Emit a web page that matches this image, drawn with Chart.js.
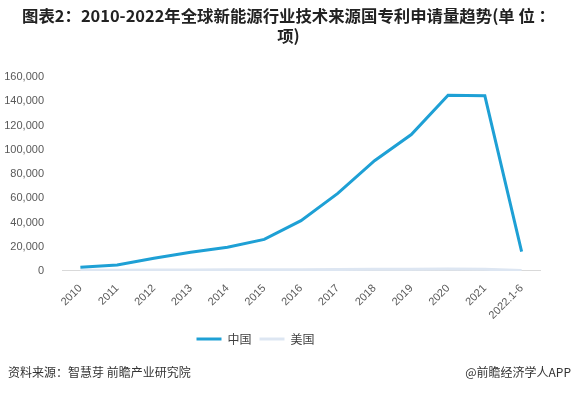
<!DOCTYPE html>
<html>
<head>
<meta charset="utf-8">
<script src="https://cdn.jsdelivr.net/npm/chart.js@4/dist/chart.umd.min.js"></script>
<style>
  html, body { margin: 0; padding: 0; background: #fff; }
  #wrap { position: relative; width: 577px; height: 393px; }
  #c { position: absolute; left: 0; top: 0; }
  .foot { position: absolute; top: 362px; font-family: "Noto Sans CJK SC", sans-serif; font-size: 12px; color: #333; line-height: 20px; white-space: nowrap; }
</style>
</head>
<body>
<div id="wrap">
  <canvas id="c" width="577" height="393"></canvas>
  <div class="foot" style="left:8px;">资料来源：智慧芽 前瞻产业研究院</div>
  <div class="foot" style="right:6px;">@前瞻经济学人APP</div>
</div>
<script>
const titleLines = ['图表2：2010-2022年全球新能源行业技术来源国专利申请量趋势(单 位 ：', '项)'];
const categories = ['2010','2011','2012','2013','2014','2015','2016','2017','2018','2019','2020','2021','2022.1-6'];
const seriesNames = ['中国', '美国'];
const chinaValues = [3000, 5000, 10500, 15500, 19500, 26000, 41500, 64000, 91000, 112500, 145000, 144500, 16000];
const usValues = [500, 600, 700, 800, 900, 1000, 1100, 1300, 1400, 1500, 1600, 1400, 300];
const yTicks = [0, 20000, 40000, 60000, 80000, 100000, 120000, 140000, 160000];

const legendShift = {
  id: 'legendShift',
  afterLayout(chart) {
    if (chart.legend) { chart.legend.left -= 33; chart.legend.right -= 33; }
  }
};

new Chart(document.getElementById('c'), {
  type: 'line',
  data: {
    labels: categories,
    datasets: [
      { label: seriesNames[0], data: chinaValues, borderColor: '#1ea0d5', backgroundColor: '#1ea0d5', borderWidth: 3, pointRadius: 0, tension: 0 },
      { label: seriesNames[1], data: usValues, borderColor: '#dde6f2', backgroundColor: '#dde6f2', borderWidth: 3, pointRadius: 0, tension: 0 }
    ]
  },
  plugins: [legendShift],
  options: {
    responsive: false,
    animation: false,
    layout: { padding: { left: 0, right: 0, top: 0, bottom: 38 } },
    plugins: {
      title: {
        display: true,
        text: titleLines,
        color: '#222',
        font: { family: '"Noto Sans CJK SC", sans-serif', size: 16.4, weight: 'bold', lineHeight: 1.22 },
        padding: { top: 6, bottom: 31 }
      },
      legend: {
        position: 'bottom',
        labels: {
          usePointStyle: true,
          pointStyle: 'line',
          pointStyleWidth: 25,
          boxHeight: 12,
          padding: 8,
          color: '#404040',
          font: { family: '"Noto Sans CJK SC", sans-serif', size: 12 }
        }
      },
      tooltip: { enabled: false }
    },
    scales: {
      x: {
        offset: true,
        grid: { display: false },
        border: { display: true, color: '#d9d9d9', width: 1 },
        ticks: { maxRotation: 45, minRotation: 45, color: '#595959', font: { family: '"Liberation Sans", Arial, sans-serif', size: 11 } },
        afterFit: (s) => { s.paddingLeft = 0; s.paddingRight = 37; }
      },
      y: {
        min: 0, max: 160000,
        afterBuildTicks: (s) => { s.ticks = yTicks.map(v => ({ value: v })); },
        afterFit: (s) => { s.width = 62; },
        grid: { display: false },
        border: { display: false },
        ticks: { color: '#595959', padding: 10, font: { family: '"Liberation Sans", Arial, sans-serif', size: 11 },
          callback: (v) => v.toLocaleString('en-US') }
      }
    }
  }
});
</script>
</body>
</html>
